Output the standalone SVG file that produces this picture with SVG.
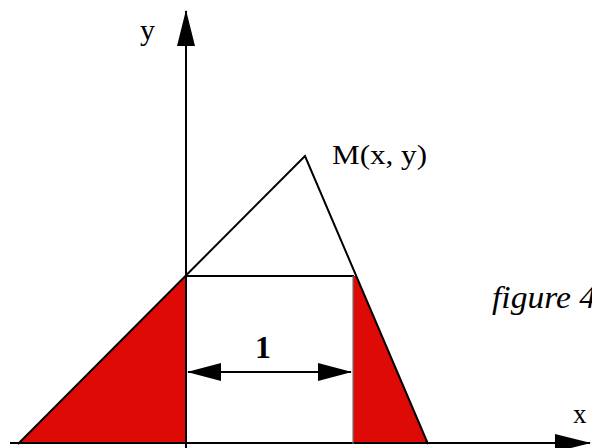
<svg xmlns="http://www.w3.org/2000/svg" width="592" height="448" viewBox="0 0 592 448">
<style>
.ln{stroke:#000;stroke-width:2;fill:none}
.red{fill:#dd0a06;stroke:none}
.t{font-family:"Liberation Serif",serif;fill:#000}
</style>
<defs>
<marker id="ah" markerWidth="36" markerHeight="20" refX="35" refY="10" orient="auto" markerUnits="userSpaceOnUse">
<path d="M0,1 L36,10 L0,19 Z" fill="#000"/>
</marker>
<marker id="ahs" markerWidth="34" markerHeight="18" refX="33" refY="9" orient="auto-start-reverse" markerUnits="userSpaceOnUse">
<path d="M0,0 L34,9 L0,18 Z" fill="#000"/>
</marker>
</defs>
<g id="shading">
<polygon class="red" points="18,444 186,276 186,444"/>
<polygon class="red" points="353,276 356,276 428,444 353,444"/>
</g>
<g id="connectors">
<line class="ln" x1="10" y1="443" x2="590" y2="443" marker-end="url(#ah)"/>
<line class="ln" x1="186" y1="448" x2="186" y2="11" marker-end="url(#ah)"/>
<polyline class="ln" points="18,444 305,156 428,444"/>
<line class="ln" x1="186" y1="276" x2="354" y2="276"/>
<line x1="353" y1="276" x2="353" y2="444" stroke="#777" stroke-width="1.2"/>
<line class="ln" x1="188" y1="372" x2="351" y2="372" marker-start="url(#ahs)" marker-end="url(#ahs)"/>
</g>
<g id="labels">
<text class="t" x="140" y="40" font-size="30">y</text>
<text class="t" x="332" y="164" font-size="28" textLength="95" lengthAdjust="spacingAndGlyphs">M(x, y)</text>
<text class="t" x="492" y="308" font-size="31" font-style="italic" textLength="104" lengthAdjust="spacingAndGlyphs">figure 4</text>
<text class="t" x="573" y="423" font-size="27">x</text>
<text class="t" x="255" y="358" font-size="32" font-weight="bold">1</text>
</g>
</svg>
